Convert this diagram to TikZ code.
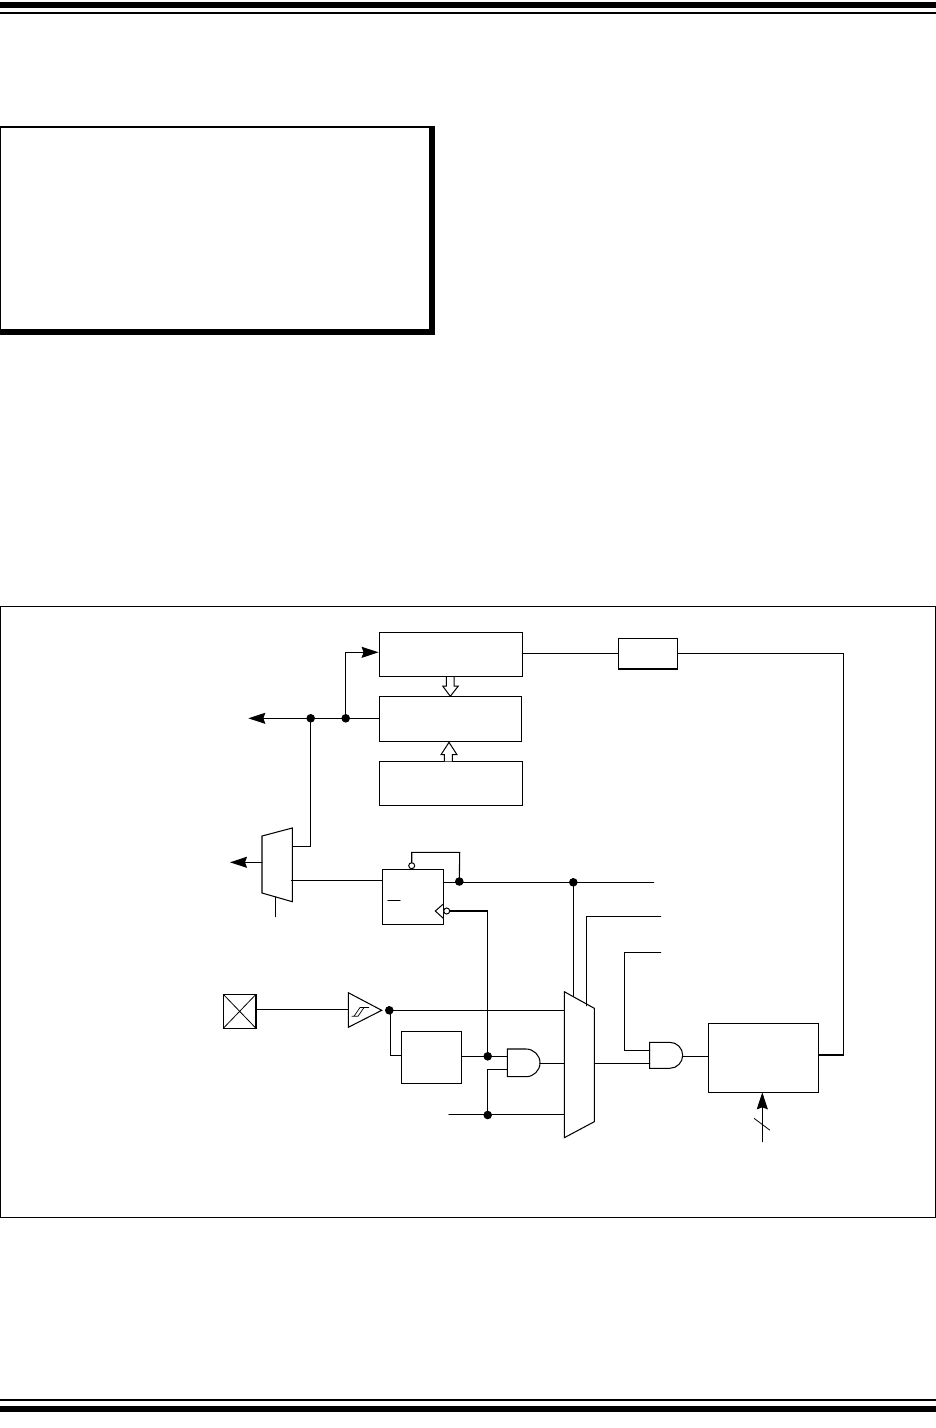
\documentclass[tikz,border=0pt]{standalone}
\usetikzlibrary{arrows.meta,positioning}
\tikzset{
  x=1pt,y=-1pt,
  wire/.style={line width=1.1pt,line cap=round},
  blk/.style={draw,line width=1.1pt,anchor=north west,inner sep=0pt,outer sep=0pt},
  sym/.style={draw,line width=1.05pt,fill=white,line join=miter},
  bigbar/.style={fill=black,draw=none},
  jdot/.style={circle,fill=black,draw=none,minimum size=8.6pt,inner sep=0pt,outer sep=0pt},
  odot/.style={circle,fill=white,draw,line width=1pt,minimum size=6pt,inner sep=0pt,outer sep=0pt},
  tip/.style={-{Stealth[length=17pt,width=11pt,inset=2pt]}},
  hollow/.style={line width=1pt,fill=white,line join=miter},
}
\begin{document}
\begin{tikzpicture}
\useasboundingbox (0,0) rectangle (936,1428);
\fill[white] (0,0) rectangle (936,1428);
% page rules
\fill[bigbar] (0,2) rectangle (936,8);
\fill[bigbar] (0,12) rectangle (936,14);
\fill[bigbar] (0,1399) rectangle (936,1401);
\fill[bigbar] (0,1406) rectangle (936,1412);
% upper note box
\fill[bigbar] (0,126) rectangle (435,128);
\fill[bigbar] (0,126) rectangle (1,335);
\fill[bigbar] (429,126) rectangle (435,335);
\fill[bigbar] (0,329) rectangle (435,335);
% figure frame
\draw[line width=1pt] (0.5,606.5) rectangle (935.4,1217.2);
% blocks
\node[blk,minimum width=143pt,minimum height=43.6pt] (reg1) at (379.3,632.7) {};
\node[blk,minimum width=142.4pt,minimum height=45pt] (reg2) at (379.3,696.3) {};
\node[blk,minimum width=143pt,minimum height=44pt] (reg3) at (379.3,761.3) {};
\node[blk,minimum width=59.4pt,minimum height=30.7pt] (small) at (618.3,638.3) {};
\node[blk,minimum width=61pt,minimum height=55pt] (ff) at (382.3,869.3) {};
\node[blk,minimum width=60.4pt,minimum height=52pt] (sync) at (401.3,1031.3) {};
\node[blk,minimum width=110.4pt,minimum height=69pt] (ctr) at (708.3,1023.3) {};
\node[blk,minimum width=32.7pt,minimum height=34pt] (pad) at (223.3,994.3) {};
\draw[line width=0.8pt] (pad.north west) -- (pad.south east) (pad.north east) -- (pad.south west);
% hollow bus arrows
\draw[hollow] (446.3,677) -- (446.3,686) -- (442.7,686) -- (450.3,696.3) -- (458.3,686) -- (454,686) -- (454,677);
\draw[hollow] (444.3,761.3) -- (444.3,754.7) -- (441,754.7) -- (449,742.3) -- (457,754.7) -- (452.3,754.7) -- (452.3,761.3);
% ff overbar and clock
\draw[wire] (388,900.3) -- (400,900.3);
\draw[line width=1pt,line join=miter] (443.3,904) -- (435.3,911) -- (443.3,918.3);
% gate and mux symbols
\coordinate (mA1) at (564.3,991.7); \coordinate (mA2) at (594.3,1008.3);
\coordinate (mA3) at (594.3,1121.7); \coordinate (mA4) at (564.3,1137.7);
\coordinate (mB1) at (262,836); \coordinate (mB2) at (292.3,828);
\coordinate (mB3) at (292.3,901.7); \coordinate (mB4) at (262,893);
\draw[sym] (mA1) -- (mA2) -- (mA3) -- (mA4) -- cycle;
\draw[sym] (mB1) -- (mB2) -- (mB3) -- (mB4) -- cycle;
% schmitt buffer
\coordinate (bufT) at (348.3,992.7); \coordinate (bufB) at (348.3,1027.3); \coordinate (bufO) at (381.7,1010.3);
\draw[sym] (bufT) -- (bufO) -- (bufB) -- cycle;
\draw[line width=0.7pt] (351.5,1016.3) -- (358,1016.3) -- (364,1007.5) -- (369,1007.5)
                        (354,1016.3) -- (360,1007.5) -- (366,1007.5);
% AND gates
\draw[sym] (507.3,1049) -- (526,1049) arc[start angle=-90,end angle=90,x radius=14pt,y radius=-13.85pt] -- (507.3,1076.7) -- cycle;
\draw[sym] (649.7,1042.3) -- (669.7,1042.3) arc[start angle=-90,end angle=90,x radius=13pt,y radius=-13pt] -- (649.7,1068.3) -- cycle;
% junction dots
\node[jdot] (j1) at (310.7,718.3) {};
\node[jdot] (j2) at (345.7,718.3) {};
\node[jdot] (j3) at (459.3,881.5) {};
\node[jdot] (j4) at (573.3,882.3) {};
\node[jdot] (j5) at (389.3,1010.3) {};
\node[jdot] (j6) at (487.7,1056.3) {};
\node[jdot] (j7) at (487.7,1115) {};
\node[odot] (qn) at (411.7,865.7) {};
\node[odot] (ck) at (446.7,911) {};
% free ends
\coordinate (outA) at (248.3,718.3);
\coordinate (outB) at (230,862.3);
\coordinate (selB) at (275.3,916.7);
\coordinate (endQ) at (653.7,882.3);
\coordinate (end2) at (660.7,916.3);
\coordinate (end3) at (660.7,952.3);
\coordinate (inL) at (449,1114.3);
\coordinate (busS) at (762.3,1141.7);
% connectors
\draw[wire,tip] (reg2.west |- j1) -- (outA);
\draw[wire,tip] (j2.center) -- (345.7,652.3) -- (378.6,652.3);
\draw[wire] (j1.center) -- (310.7,846.3) -- (292.3,846.3);
\draw[wire,tip] (mB1 |- outB) -- (outB);
\draw[wire] (275.3,897) -- (selB);
\draw[wire] (291.3,880.3) -- (ff.west |- 0,880.3);
\draw[wire] (reg1.east |- 0,653.3) -- (small.west |- 0,653.3);
\draw[wire] (small.east |- 0,653.3) -- (843.7,653.3) -- (843.7,1055) -- (ctr.east |- 0,1055);
\draw[wire] (ff.east |- endQ) -- (endQ);
\draw[wire] (qn.north) -- (411.7,852.3) -- (459.7,852.3) -- (j3.center);
\draw[wire] (ck.east) -- (487.3,911) -- (487.3,1056.3);
\draw[wire] (j4.center) -- (573.3,996.3);
\draw[wire] (586.7,1005.7) -- (586.7,916.3) -- (end2);
\draw[wire] (end3) -- (624.3,952.3) -- (624.3,1050.7) -- (649.7,1050.7);
\draw[wire] (256,1009.3) -- (bufT |- 0,1009.3);
\draw[wire] (j5.center) -- (mA1 |- j5);
\draw[wire] (390.3,1010.3) -- (390.3,1055.3) -- (sync.west |- 0,1055.3);
\draw[wire] (sync.east |- j6) -- (507.3,1056.3);
\draw[wire] (507.3,1069.3) -- (487.3,1069.3) -- (487.3,1115);
\draw[wire] (inL) -- (564.3,1114.3);
\draw[wire] (540,1063.3) -- (564.3,1063.3);
\draw[wire] (594.3,1063.3) -- (649.7,1063.3);
\draw[wire] (682.7,1056.3) -- (ctr.west |- 0,1056.3);
\draw[wire,tip] (busS) -- (ctr.south -| busS);
\draw[line width=0.8pt] (754,1118.3) -- (770,1130.3);
\end{tikzpicture}
\end{document}
